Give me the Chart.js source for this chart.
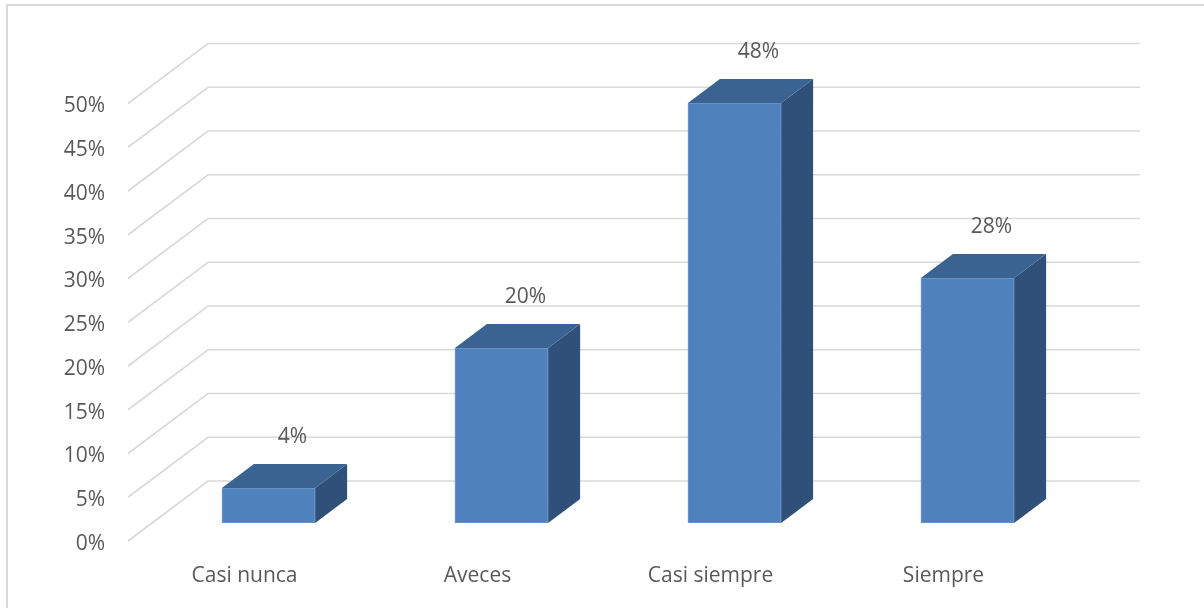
<!DOCTYPE html>
<html>
<head>
<meta charset="utf-8">
<script src="https://cdn.jsdelivr.net/npm/chart.js@4.4.1/dist/chart.umd.min.js"></script>
<style>
  html, body { margin: 0; padding: 0; background: #ffffff; }
  #wrap { position: relative; width: 1204px; height: 608px; }
</style>
</head>
<body>
<div id="wrap"><canvas id="c" width="1204" height="608"></canvas></div>
<script>
// Categories and values (percent)
const categories = ['Casi nunca', 'Aveces', 'Casi siempre', 'Siempre'];
const percentages = [4, 20, 48, 28];
const yTicks = [0, 5, 10, 15, 20, 25, 30, 35, 40, 45, 50];

// Depth of the 3D floor (back wall offset from the front plane) and bar slab
const DEPTH = { dx: 80, dy: -60 };
const BAR_FRONT = 0.3;   // fraction of depth where bar front faces sit
const BAR_BACK = 0.7;    // fraction of depth where bar back faces sit

const FONT = "'Open Sans', 'DejaVu Sans', sans-serif";
const TEXT = '#595959';
const GRID = '#d9d9d9';
const FACE_FRONT = '#4f81bd';
const FACE_TOP = '#3b6392';
const FACE_SIDE = '#2f5079';

const off = f => ({ x: DEPTH.dx * f, y: DEPTH.dy * f });

const frame = {
  id: 'frame',
  beforeDraw(chart) {
    const ctx = chart.ctx;
    ctx.save();
    ctx.strokeStyle = '#d9d9d9';
    ctx.lineWidth = 2;
    ctx.strokeRect(7, 5, 1240, 640);
    ctx.restore();
  }
};

// Back wall grid lines and the diagonals joining them to the value axis
const walls = {
  id: 'walls',
  beforeDatasetsDraw(chart) {
    const ctx = chart.ctx;
    const y = chart.scales.y;
    const x0 = chart.chartArea.left;
    const x1 = chart.chartArea.right + 80;
    const back = off(1);
    ctx.save();
    ctx.strokeStyle = GRID;
    ctx.lineWidth = 1.6;
    yTicks.forEach(v => {
      const py = y.getPixelForValue(v);
      ctx.beginPath();
      ctx.moveTo(x0, py);
      ctx.lineTo(x0 + back.x, py + back.y);
      ctx.lineTo(x1, py + back.y);
      ctx.stroke();
    });
    ctx.restore();
  }
};

// Bars drawn as boxes from the dataset's own elements, then their value labels
const boxes = {
  id: 'boxes',
  afterDatasetsDraw(chart) {
    const ctx = chart.ctx;
    const meta = chart.getDatasetMeta(0);
    const f = off(BAR_FRONT);
    const b = off(BAR_BACK);
    const d = { x: b.x - f.x, y: b.y - f.y };
    ctx.save();
    meta.data.forEach((el, i) => {
      const w = el.width;
      const L = el.x - w / 2 + f.x;
      const R = el.x + w / 2 + f.x;
      const T = el.y + f.y;
      const B = el.base + f.y;
      // side face
      ctx.fillStyle = FACE_SIDE;
      ctx.beginPath();
      ctx.moveTo(R, T); ctx.lineTo(R + d.x, T + d.y);
      ctx.lineTo(R + d.x, B + d.y); ctx.lineTo(R, B);
      ctx.closePath(); ctx.fill();
      // top face
      ctx.fillStyle = FACE_TOP;
      ctx.beginPath();
      ctx.moveTo(L, T); ctx.lineTo(L + d.x, T + d.y);
      ctx.lineTo(R + d.x, T + d.y); ctx.lineTo(R, T);
      ctx.closePath(); ctx.fill();
      // front face
      ctx.fillStyle = FACE_FRONT;
      ctx.fillRect(L, T, R - L, B - T);
      // soft edges
      ctx.strokeStyle = 'rgba(120,160,210,0.55)';
      ctx.lineWidth = 1;
      ctx.strokeRect(L + 0.5, T + 0.5, R - L - 1, B - T - 1);

      // value label above the top face
      const v = chart.data.datasets[0].data[i];
      ctx.fillStyle = TEXT;
      ctx.font = '21px ' + FONT;
      ctx.textAlign = 'center';
      ctx.textBaseline = 'middle';
      ctx.fillText(v + '%', el.x + 48, T + d.y - 27);
    });
    ctx.restore();
  }
};

new Chart(document.getElementById('c'), {
  type: 'bar',
  data: {
    labels: categories,
    datasets: [{
      data: percentages,
      backgroundColor: 'rgba(0,0,0,0)',
      borderWidth: 0,
      categoryPercentage: 1,
      barPercentage: 0.4
    }]
  },
  options: {
    responsive: false,
    animation: false,
    devicePixelRatio: 1,
    layout: { padding: { left: 0, top: 103.5, right: 144, bottom: 0 } },
    plugins: { legend: { display: false }, tooltip: { enabled: false } },
    scales: {
      x: {
        grid: { display: false, drawTicks: false },
        border: { display: false },
        ticks: { color: TEXT, font: { family: FONT, size: 21 }, padding: 22, maxRotation: 0 },
        afterFit(s) { s.height = 67; }
      },
      y: {
        min: 0, max: 50,
        grid: { display: false, drawTicks: false },
        border: { display: false },
        ticks: {
          stepSize: 5, color: TEXT, font: { family: FONT, size: 21 }, padding: 23,
          labelOffset: 3,
          callback: v => v + '%'
        },
        afterFit(s) { s.width = 128; }
      }
    }
  },
  plugins: [frame, walls, boxes]
});
</script>
</body>
</html>
